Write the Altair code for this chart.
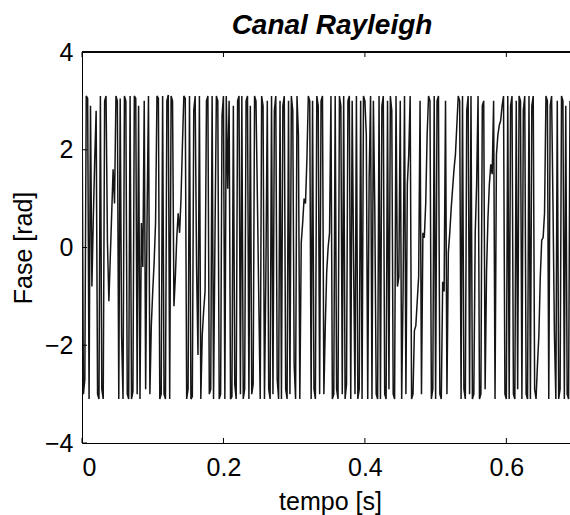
import altair as alt
import pandas as pd

# ---- data ----
DT = 0.002  # sample spacing [s]
fase = [
    3.1, -3.0, -2.7, 3.1, 3.05, -3.1, 2.9, -0.8, 0.6, 1.8,
    2.8, -3.0, -3.1, 3.1, -2.9, -3.1, 3.0, 3.1, 0.1, -1.1,
    -0.2, 0.7, 1.6, 0.9, 3.1, 3.0, -3.1, 3.05, -1.8, -3.1,
    3.1, 3.0, -3.0, -3.1, 3.1, -3.1, -2.95, 3.1, 3.05, -3.0,
    2.9, -3.1, 0.5, -0.4, 3.0, -2.9, 0.6, 3.1, -3.0, -1.6,
    -0.9, -0.3, 0.5, 3.1, 3.05, -3.1, -3.0, 3.1, -3.0, -3.1,
    3.0, 3.12, -3.1, 3.1, 3.0, -1.2, -0.6, 0.2, 0.7, 0.3,
    1.0, 2.1, 3.1, 3.05, -3.1, -2.9, 3.1, -3.1, -3.05, 2.8,
    3.1, -0.4, -2.2, 3.1, -3.1, -1.8, -1.3, -0.9, 3.0, 3.1,
    -3.0, -2.9, 3.1, -3.1, 0.2, 3.1, 3.0, -3.1, -3.0, 2.7,
    3.1, -3.1, 3.1, 1.2, 3.0, -3.1, -3.05, 2.9, -2.8, -3.1,
    3.0, 3.1, -3.0, 3.1, -3.1, -2.9, 3.0, 3.1, -3.1, 2.9,
    -3.0, -2.8, 3.1, 3.0, 1.0, -1.1, -3.1, 3.1, 2.9, -3.1,
    -0.5, 3.0, -2.9, -3.1, 3.1, -3.0, 2.8, 3.1, -2.7, -3.1,
    3.0, -3.1, 2.9, 3.1, -2.9, -3.1, 3.0, -3.0, 3.1, 2.8,
    -2.4, -3.1, 3.1, 2.3, -3.1, 0.1, 0.5, 1.0, 0.9, 1.8,
    3.1, 3.0, -3.1, 3.0, -2.9, -3.1, 3.1, 2.9, -3.0, 3.0,
    3.1, -3.0, -1.6, -0.5, 0.0, 0.3, 3.1, -3.1, -3.0, 3.1,
    -2.9, -3.1, 3.1, 2.9, -3.0, 3.1, -3.1, -2.8, 3.0, 3.1,
    -3.1, 3.0, -0.3, -3.0, 3.1, -3.1, -2.9, 3.0, -3.1, 3.1,
    3.0, 2.3, -3.1, 1.4, 3.1, -3.1, 3.0, 0.8, -3.0, -3.1,
    3.1, -3.1, 2.9, 3.1, -3.0, -3.1, 3.0, -2.9, 3.1, 2.8,
    -3.0, -3.1, 3.1, -0.8, -0.6, 3.0, -3.1, -0.9, 3.1, -3.0,
    1.3, 1.9, 3.1, -3.1, -3.0, -1.7, -1.6, -1.1, -0.6, 3.0,
    -3.0, 0.3, 0.2, 0.9, 2.3, 3.1, 3.0, -3.1, -2.9, 3.1,
    -3.1, 3.0, 3.1, -3.0, -3.1, -0.7, -0.9, 3.0, -3.0, -0.1,
    0.3, 0.8, 1.2, 1.6, 1.9, 2.5, 3.1, 3.0, -3.1, 3.1,
    -2.9, -3.1, 2.8, 3.1, -3.0, 3.1, -3.1, -3.0, 0.3, 1.3,
    3.1, -3.1, -3.0, 2.9, 3.0, -2.9, -0.5, 0.6, 1.3, 1.7,
    1.5, 3.0, -3.1, 1.9, 2.3, 2.5, 2.6, 2.9, 3.1, -3.0,
    -3.1, 3.1, -3.1, 2.9, 3.1, -3.0, -3.1, 3.0, -2.9, 3.1,
    3.0, -3.1, 2.8, 3.1, -3.0, -3.1, 3.1, -3.1, 2.9, 3.1,
    -2.9, -3.1, -2.4, -1.8, -0.6, 0.15, 0.2, 0.7, 3.1, 3.0,
    -3.1, 2.9, 3.1, 0.8, -1.8, -3.1, 3.0, -3.1, -2.9, 3.1,
    3.0, -3.1, 2.9, -3.0, -3.1, 3.0,
]
tempo = [round(i * DT, 4) for i in range(len(fase))]

x_ticks = [0, 0.2, 0.4, 0.6]
y_ticks = [-4, -2, 0, 2, 4]

X_MAX = 0.69
W, H = 488, 391
FONT = "Liberation Sans"

df = pd.DataFrame({"tempo": tempo, "fase": fase})
xt = pd.DataFrame({"xt": x_ticks})
yt = pd.DataFrame({"yt": y_ticks})

xscale = alt.Scale(domain=[0, X_MAX], nice=False, zero=False)
yscale = alt.Scale(domain=[-4, 4], nice=False, zero=False)

line = alt.Chart(df).mark_line(
    color="#151515", strokeWidth=1.5, clip=True, strokeJoin="bevel"
).encode(
    x=alt.X(
        "tempo:Q", scale=xscale,
        axis=alt.Axis(
            values=x_ticks, format="~g", title="tempo [s]", grid=False,
            ticks=False, tickSize=0, domainColor="black", domainWidth=1,
            labelFont=FONT, labelFontSize=25, labelColor="black", labelPadding=12,
            titleFont=FONT, titleFontSize=25, titleFontWeight="normal", titleColor="black",
            titleX=248, titleY=66, titleBaseline="alphabetic", titleAlign="center",
        ),
    ),
    y=alt.Y(
        "fase:Q", scale=yscale,
        axis=alt.Axis(
            values=y_ticks, format="~g", title="Fase [rad]", grid=False,
            ticks=False, tickSize=0, domainColor="black", domainWidth=1,
            labelFont=FONT, labelFontSize=25, labelColor="black", labelPadding=9,
            titleFont=FONT, titleFontSize=25, titleFontWeight="normal", titleColor="black",
            titleX=-51, titleY=H / 2, titleAngle=270, titleBaseline="alphabetic",
            titleAlign="center",
        ),
    ),
)

# inward tick marks (MATLAB style) and top border
bx = alt.Chart(xt).mark_rule(color="black", strokeWidth=1).encode(
    x=alt.X("xt:Q", scale=xscale), y=alt.value(H), y2=alt.value(H - 5)
)
tx = alt.Chart(xt).mark_rule(color="black", strokeWidth=1).encode(
    x=alt.X("xt:Q", scale=xscale), y=alt.value(0), y2=alt.value(5)
)
ly = alt.Chart(yt).mark_rule(color="black", strokeWidth=1).encode(
    y=alt.Y("yt:Q", scale=yscale), x=alt.value(0), x2=alt.value(5)
)
top = alt.Chart(yt).mark_rule(color="black", strokeWidth=1).encode(
    x=alt.value(0), x2=alt.value(W), y=alt.value(0)
)

chart = alt.layer(line, bx, tx, ly, top).properties(
    width=W,
    height=H,
    title=alt.TitleParams(
        "Canal Rayleigh", font=FONT, fontSize=28, fontWeight="bold",
        fontStyle="italic", color="black", anchor="middle", dx=6, dy=39,
        offset=17, baseline="alphabetic",
    ),
    padding={"left": 82, "top": 52, "right": 0, "bottom": 72},
    autosize=alt.AutoSizeParams(type="none"),
    background="white",
).configure_view(stroke=None)

chart.save("out.html", embed_options={"renderer": "svg", "actions": False})
